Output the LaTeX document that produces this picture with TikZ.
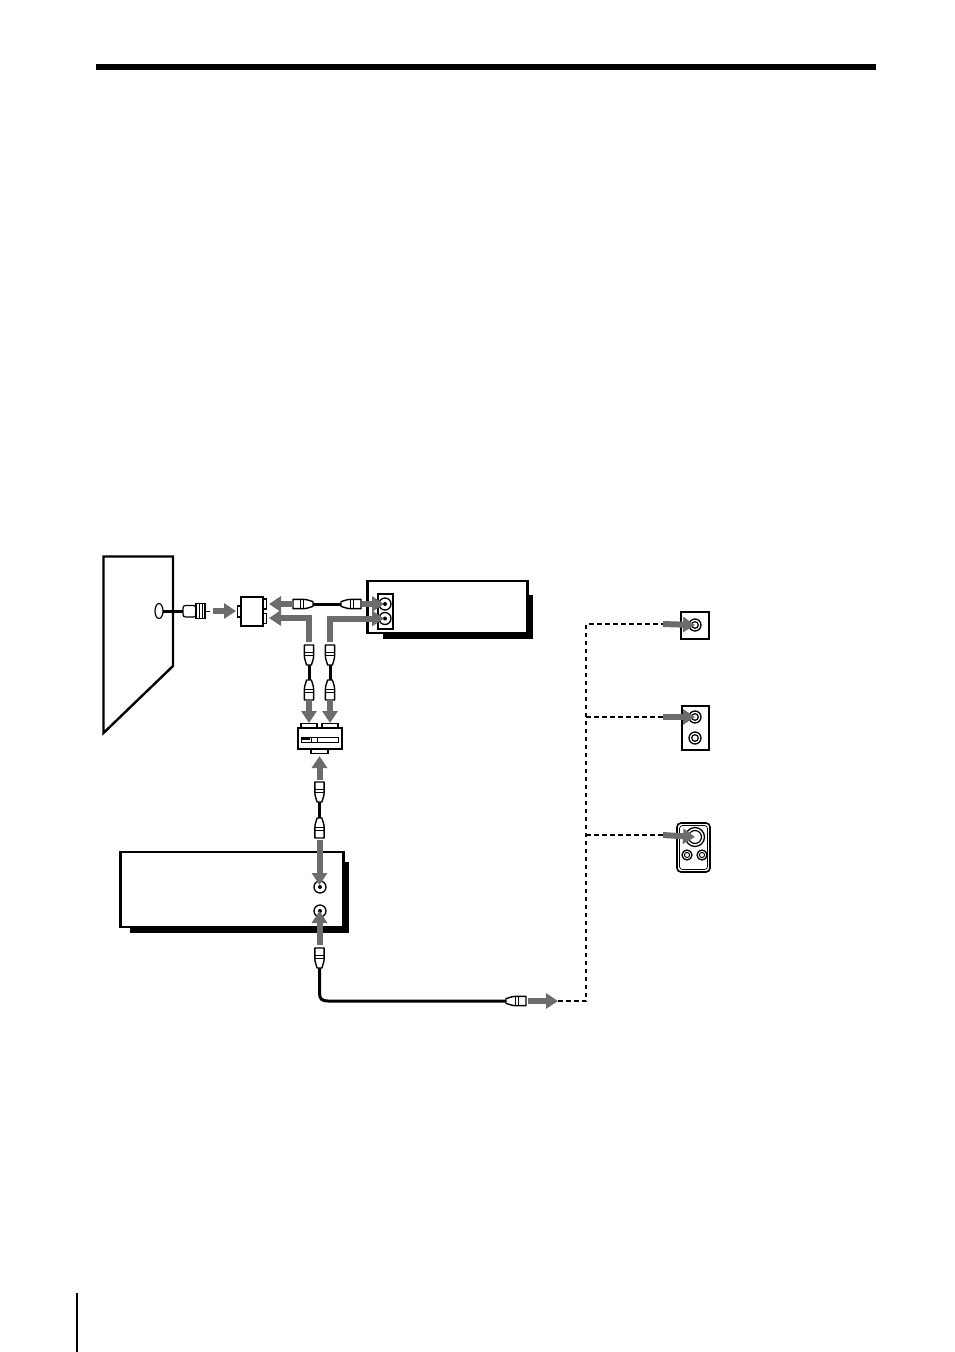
\documentclass[tikz,border=0pt]{standalone}
\usetikzlibrary{arrows.meta,shapes.geometric}
\definecolor{arrowgray}{HTML}{6C6C6C}
\tikzset{
  outlinebox/.style={draw=black,fill=white,line width=2.8pt,rectangle,inner sep=0pt,outer sep=0pt},
  thinbox/.style={draw=black,fill=white,line width=1.3pt,rectangle,inner sep=0pt,outer sep=0pt},
  jacknode/.style={draw=black,fill=white,circle,line width=1.3pt,minimum size=#1,inner sep=0pt,outer sep=0pt},
  flow/.style={draw=arrowgray,line width=6pt,line join=miter,-{Triangle[length=12pt,width=15pt]}},
  cable/.style={draw=black,line width=3pt},
  dashwire/.style={draw=black,line width=1.6pt,dash pattern=on 4.5pt off 3.5pt},
  shadowfill/.style={fill=black,draw=none},
  plug/.pic={
    \draw[black,fill=white,line width=1.4pt,line join=round]
      (0,-2.4) .. controls (3,-2.8) and (5,-4.6) .. (9,-4.6) -- (20,-4.6) -- (20,4.6) -- (9,4.6)
      .. controls (5,4.6) and (3,2.8) .. (0,2.4) -- cycle;
    \draw[black,line width=1.1pt] (9.5,-4.6) -- (9.5,4.6) (12.5,-4.6) -- (12.5,4.6);
  },
}
\begin{document}
\begin{tikzpicture}[x=1pt,y=-1pt]
\useasboundingbox (0,0) rectangle (954,1352);
\fill[white] (0,0) rectangle (954,1352);
% page rules
\fill[black] (96,64) rectangle (876,70);
\fill[black] (76.2,1293) rectangle (77.8,1352);
% wall
\draw[black,line width=2.4pt,line join=miter,fill=white] (103.5,556.5) -- (173,556.5) -- (173,666) -- (103.5,733) -- cycle;
\node[draw=black,fill=white,ellipse,line width=1.2pt,minimum width=8pt,minimum height=15pt,inner sep=0pt,outer sep=0pt] (outlet) at (159,611) {};
\coordinate (fplug) at (183,611);
\draw[cable] (outlet.east) -- (fplug);
% F connector
\draw[black,fill=white,line width=1.2pt,rounded corners=2.5pt] (183,605.5) rectangle (196,617);
\draw[black,fill=white,line width=1.2pt] (196,603.5) rectangle (205,618.5);
\draw[black,line width=0.8pt] (199,603.5) -- (199,618.5) (202,603.5) -- (202,618.5);
\draw[black,line width=0.8pt] (205,611) -- (210,611);
% splitter
\node[thinbox,minimum width=4pt,minimum height=11pt] (spIn) at (239.5,611.5) {};
\node[thinbox,minimum width=5pt,minimum height=10pt] (spOutA) at (264,604) {};
\node[thinbox,minimum width=5pt,minimum height=10pt] (spOutB) at (264,618.5) {};
\node[outlinebox,line width=2.2pt,minimum width=22pt,minimum height=29pt] (splitter) at (252,611.5) {};
% VCR
\fill[shadowfill] (383,595) -- (533,595) -- (533,639) -- (383,639) -- cycle;
\node[outlinebox,minimum width=160pt,minimum height=52pt] (vcr) at (447.5,607) {};
\node[thinbox,minimum width=15pt,minimum height=35pt] (vcrPanel) at (385.5,611.5) {};
\node[jacknode=12pt] (vcrA) at (385,604) {};
\node[jacknode=12pt] (vcrB) at (385,618.5) {};
\fill[black] (vcrA) circle (2); \fill[black] (vcrB) circle (2);
% switch box
\node[thinbox,minimum width=16pt,minimum height=5pt] (swTopA) at (309,726) {};
\node[thinbox,minimum width=16pt,minimum height=5pt] (swTopB) at (330,726) {};
\node[thinbox,minimum width=17pt,minimum height=5pt] (swBot) at (319.5,751) {};
\node[thinbox,line width=1.5pt,minimum width=44pt,minimum height=21pt] (switch) at (320,738.5) {};
\node[thinbox,line width=1pt,minimum width=37pt,minimum height=5pt] (slider) at (319.5,739.5) {};
\fill[black] (301,737) rectangle (310,740);
\draw[black,line width=1pt] (311,737) -- (311,742) (317,737) -- (317,742);
% TV
\fill[shadowfill] (130,862) -- (349,862) -- (349,933) -- (130,933) -- cycle;
\node[outlinebox,minimum width=223pt,minimum height=75pt] (tv) at (232,889.5) {};
\node[jacknode=12pt] (tvIn) at (320,887) {};
\node[jacknode=12pt] (tvOut) at (320,911) {};
\fill[black] (tvIn) circle (2); \fill[black] (tvOut) circle (2);
% cables
\coordinate (c1a) at (313,604); \coordinate (c1b) at (341,604);
\coordinate (c2a) at (309,665); \coordinate (c2b) at (309,680);
\coordinate (c3a) at (330,665); \coordinate (c3b) at (330,680);
\coordinate (c4a) at (319.5,802); \coordinate (c4b) at (319.5,818);
\coordinate (c5a) at (319.5,968); \coordinate (c5b) at (506,1001);
\draw[cable] (c1a) -- (c1b);
\draw[cable] (c2a) -- (c2b);
\draw[cable] (c3a) -- (c3b);
\draw[cable] (c4a) -- (c4b);
\draw[cable] (c5a) -- (319.5,993) .. controls (319.5,999) and (322,1001) .. (328,1001) -- (c5b);
\pic[rotate=180] at (c1a) {plug};
\pic at (c1b) {plug};
\pic[rotate=90] at (c2a) {plug};
\pic[rotate=-90] at (c2b) {plug};
\pic[rotate=90] at (c3a) {plug};
\pic[rotate=-90] at (c3b) {plug};
\pic[rotate=90] at (c4a) {plug};
\pic[rotate=-90] at (c4b) {plug};
\pic[rotate=90] at (c5a) {plug};
\pic at (c5b) {plug};
% wall panels
\node[outlinebox,line width=1.6pt,minimum width=28pt,minimum height=27pt] (wallA) at (695,625.5) {};
\node[jacknode=12pt] (wallAj) at (695,625) {};
\draw[black,line width=1.2pt] (wallAj) circle (3.3);
\node[outlinebox,line width=1.6pt,minimum width=27pt,minimum height=44pt] (wallB) at (695.5,728) {};
\node[jacknode=12pt] (wallBj) at (695,717) {};
\draw[black,line width=1.2pt] (wallBj) circle (3.3);
\node[jacknode=12pt] (wallBk) at (695,738) {};
\draw[black,line width=1.2pt] (wallBk) circle (3.3);
\node[draw=black,fill=white,rectangle,rounded corners=4pt,line width=1.6pt,minimum width=33pt,minimum height=49pt,inner sep=0pt,outer sep=0pt] (wallC) at (693.5,847.5) {};
\draw[black,line width=0.7pt,rounded corners=3pt] (679.5,825.5) rectangle (707.5,869.5);
\node[jacknode=19pt] (wallCj) at (695,837) {};
\draw[black,line width=1.2pt] (wallCj) circle (6.5);
\node[jacknode=10pt] (wallCk) at (687,855) {};
\draw[black,line width=1pt] (wallCk) circle (2.6);
\node[jacknode=10pt] (wallCl) at (702,855) {};
\draw[black,line width=1pt] (wallCl) circle (2.6);
% dashed wiring
\coordinate (dStart) at (558,1001);
\coordinate (dCorner) at (586,1001);
\coordinate (dTop) at (586,624);
\coordinate (dMid) at (586,717);
\coordinate (dLow) at (586,835);
\coordinate (dA) at (663,624);
\coordinate (dB) at (663,717);
\coordinate (dC) at (663,835);
\draw[dashwire] (dStart) -- (dCorner) -- (dTop) -- (dA);
\draw[dashwire] (dMid) -- (dB);
\draw[dashwire] (dLow) -- (dC);
% gray arrows
\coordinate (f1) at (213,611); \coordinate (f1t) at (236,611);
\coordinate (f2) at (293,604); \coordinate (f2t) at (269,604);
\coordinate (f3) at (309,642); \coordinate (f3c) at (309,618); \coordinate (f3t) at (269,618);
\coordinate (f4) at (330,642); \coordinate (f4c) at (330,618.5); \coordinate (f4t) at (384,618.5);
\coordinate (f5) at (362,604); \coordinate (f5t) at (384,604);
\coordinate (f6) at (309,700); \coordinate (f6t) at (309,723);
\coordinate (f7) at (330,700); \coordinate (f7t) at (330,723);
\coordinate (f8) at (319.5,780); \coordinate (f8t) at (319.5,756);
\coordinate (f9) at (319.5,840); \coordinate (f9t) at (319.5,885);
\coordinate (f10) at (319.5,945); \coordinate (f10t) at (319.5,911);
\coordinate (f11) at (528,1001); \coordinate (f11t) at (558,1001);
\draw[flow] (f1) -- (f1t);
\draw[flow] (f2) -- (f2t);
\draw[flow] (f3) -- (f3c) -- (f3t);
\draw[flow] (f4) -- (f4c) -- (f4t);
\draw[flow] (f5) -- (f5t);
\draw[flow] (f6) -- (f6t);
\draw[flow] (f7) -- (f7t);
\draw[flow] (f8) -- (f8t);
\draw[flow] (f9) -- (f9t);
\draw[flow] (f10) -- (f10t);
\draw[flow] (f11) -- (f11t);
\draw[flow] (dA) -- (wallAj.center);
\draw[flow] (dB) -- (wallBj.center);
\draw[flow] (dC) -- (wallCj.center);
\end{tikzpicture}
\end{document}
